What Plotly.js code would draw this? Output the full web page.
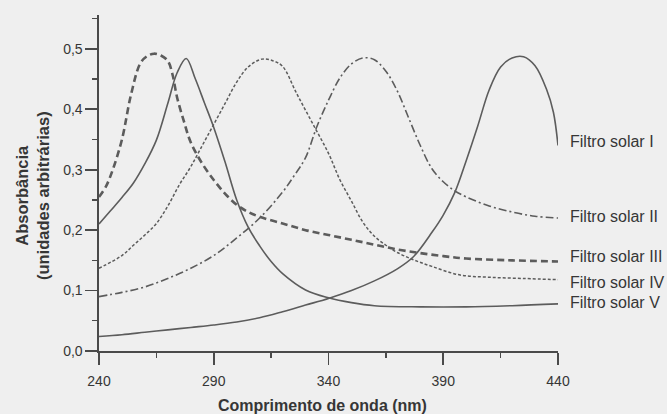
<!DOCTYPE html>
<html>
<head>
<meta charset="utf-8">
<script src="https://cdn.plot.ly/plotly-3.0.1.min.js"></script>
<style>
html,body{margin:0;padding:0;background:#efefef;}
#chart{width:667px;height:414px;}
</style>
</head>
<body>
<div id="chart"></div>
<script>
// Wavelength (nm) and absorbance (arbitrary units)
const xI = [240,250,260,270,280,290,300,310,320,330,340,350,360,370,377,385,390,395,400,405,410,415,420,425,430,435,438,440];
const yI = [0.024,0.027,0.031,0.035,0.039,0.043,0.048,0.055,0.065,0.076,0.087,0.100,0.116,0.136,0.156,0.196,0.225,0.262,0.315,0.372,0.432,0.470,0.485,0.487,0.472,0.433,0.395,0.340];

const xII = [240,250,260,270,280,290,300,310,320,325,330,335,340,345,350,355,360,365,370,375,380,385,390,395,400,410,420,430,440];
const yII = [0.090,0.097,0.106,0.120,0.137,0.158,0.187,0.220,0.263,0.290,0.320,0.372,0.415,0.452,0.475,0.485,0.482,0.463,0.430,0.385,0.340,0.302,0.280,0.265,0.255,0.240,0.230,0.223,0.220];

const xIII = [240,243,246,250,254,258,261,264,267,270,272,274,277,280,285,290,295,300,305,310,320,330,340,350,360,370,380,390,400,420,440];
const yIII = [0.255,0.272,0.300,0.350,0.425,0.476,0.488,0.492,0.489,0.480,0.458,0.420,0.380,0.345,0.310,0.283,0.260,0.242,0.230,0.222,0.211,0.200,0.192,0.184,0.176,0.168,0.162,0.157,0.153,0.150,0.148];

const xIV = [240,250,255,260,265,270,275,280,285,290,295,300,305,311,316,320,326,333,340,345,350,355,360,365,370,377,385,397,410,425,440];
const yIV = [0.137,0.158,0.175,0.192,0.211,0.240,0.275,0.305,0.340,0.375,0.410,0.445,0.470,0.483,0.480,0.471,0.427,0.377,0.327,0.283,0.248,0.213,0.190,0.175,0.163,0.151,0.140,0.126,0.122,0.120,0.118];

const xV = [240,245,250,255,260,265,270,274,278,282,286,290,295,300,305,310,315,320,330,340,350,360,380,400,420,440];
const yV = [0.210,0.232,0.254,0.278,0.310,0.349,0.410,0.460,0.484,0.450,0.410,0.370,0.312,0.250,0.205,0.174,0.148,0.128,0.101,0.088,0.080,0.075,0.073,0.073,0.075,0.078];

const seriesNames = ['Filtro solar I','Filtro solar II','Filtro solar III','Filtro solar IV','Filtro solar V'];
const labelY = [0.346,0.222,0.156,0.114,0.081];
const xTicks = [240,290,340,390,440];
const yTicks = [0.0,0.1,0.2,0.3,0.4,0.5];
const xTitle = 'Comprimento de onda (nm)';
const yTitle = 'Absorbância<br>(unidades arbitrárias)';

const lineCol = '#5c5c5c';
const textCol = '#363636';
const font = 'Liberation Sans, Arial, sans-serif';

function tr(x, y, dash, width, name) {
  return {x: x, y: y, type: 'scatter', mode: 'lines', name: name,
    line: {color: lineCol, width: width, dash: dash, shape: 'spline', smoothing: 1},
    hoverinfo: 'skip'};
}

const data = [
  tr(xI, yI, 'solid', 1.6, seriesNames[0]),
  tr(xII, yII, '8px,3px,2px,3px', 1.6, seriesNames[1]),
  tr(xIII, yIII, '7px,4px', 2.6, seriesNames[2]),
  tr(xIV, yIV, '3px,2px', 1.5, seriesNames[3]),
  tr(xV, yV, 'solid', 1.6, seriesNames[4])
];

const annotations = seriesNames.map((n, i) => ({
  text: n, xref: 'paper', yref: 'y', x: 1.0218, y: labelY[i],
  xanchor: 'left', yanchor: 'middle', showarrow: false,
  font: {family: font, size: 16, color: textCol}
}));
annotations.push({
  text: '<b>' + xTitle + '</b>', xref: 'paper', yref: 'paper', x: 0.488, y: -0.161,
  xanchor: 'center', yanchor: 'middle', showarrow: false,
  font: {family: font, size: 16, color: textCol}
});
annotations.push({
  text: '<b>' + yTitle + '</b>', xref: 'paper', yref: 'paper', x: -0.146, y: 0.464,
  xanchor: 'center', yanchor: 'middle', showarrow: false, textangle: -90,
  font: {family: font, size: 16.5, color: textCol}
});

const layout = {
  width: 667, height: 414,
  margin: {l: 99, r: 109, t: 15, b: 63, pad: 0},
  paper_bgcolor: '#efefef', plot_bgcolor: '#efefef',
  showlegend: false,
  separators: ',.',
  font: {family: font, color: textCol, size: 14},
  xaxis: {
    range: [240, 440], tickvals: xTicks, ticktext: xTicks.map(String),
    showgrid: false, zeroline: false, showline: true, linecolor: '#4a4a4a', linewidth: 1.6,
    ticks: 'outside', ticklen: 12, tickwidth: 1.6, tickcolor: '#4a4a4a',
    ticklabelstandoff: 5,
    minor: {dtick: 25, tick0: 240, ticks: 'outside', ticklen: 5, tickwidth: 1.4, tickcolor: '#4a4a4a', showgrid: false},
    tickfont: {family: font, size: 14, color: textCol}
  },
  yaxis: {
    range: [0, 0.556], tickvals: yTicks, tickformat: '.1f',
    showgrid: false, zeroline: false, showline: true, linecolor: '#4a4a4a', linewidth: 1.6,
    ticks: 'outside', ticklen: 12, tickwidth: 1.6, tickcolor: '#4a4a4a',
    minor: {dtick: 0.05, tick0: 0, ticks: 'outside', ticklen: 5, tickwidth: 1.4, tickcolor: '#4a4a4a', showgrid: false},
    tickfont: {family: font, size: 14, color: textCol}
  },
  annotations: annotations
};

Plotly.newPlot('chart', data, layout, {displayModeBar: false, staticPlot: true});
</script>
</body>
</html>
